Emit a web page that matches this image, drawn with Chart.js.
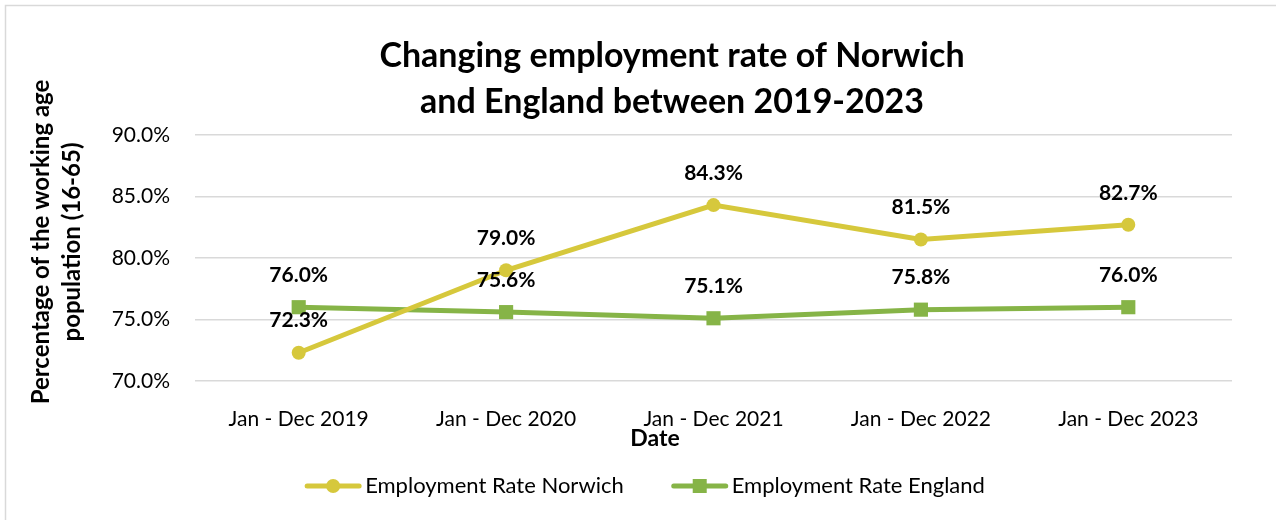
<!DOCTYPE html>
<html>
<head>
<meta charset="utf-8">
<script src="https://cdn.jsdelivr.net/npm/chart.js@4/dist/chart.umd.min.js"></script>
<style>
  html, body { margin: 0; padding: 0; background: #ffffff; }
  #chart { display: block; }
</style>
</head>
<body>
<canvas id="chart" width="1276" height="520"></canvas>
<script>
// Employment rate (% of working-age population, 16-65)
const categories = ['Jan - Dec 2019', 'Jan - Dec 2020', 'Jan - Dec 2021', 'Jan - Dec 2022', 'Jan - Dec 2023'];
const norwichRate = [72.3, 79.0, 84.3, 81.5, 82.7];
const englandRate = [76.0, 75.6, 75.1, 75.8, 76.0];
const seriesNames = ['Employment Rate Norwich', 'Employment Rate England'];
const yTicks = [70, 75, 80, 85, 90];

const titleLines = ['Changing employment rate of Norwich', 'and England between 2019-2023'];
const yTitleLines = ['Percentage of the working age', 'population (16-65)'];
const xTitle = 'Date';

const FONT = 'Lato, "Open Sans", "Liberation Sans", sans-serif';
const YELLOW = '#D6C83C';
const GREEN = '#86B447';
const TEXT = '#000000';

const pct = v => Number(v).toFixed(1) + '%';

// Titles, value labels, legend and frame drawn on the chart canvas
const decor = {
  id: 'decor',
  beforeDraw(chart) {
    const ctx = chart.ctx;
    ctx.save();
    ctx.fillStyle = '#ffffff';
    ctx.fillRect(0, 0, chart.width, chart.height);
    ctx.strokeStyle = '#d9d9d9';
    ctx.lineWidth = 1.5;
    ctx.beginPath();
    ctx.moveTo(5.5, chart.height + 2);
    ctx.lineTo(5.5, 5.5);
    ctx.lineTo(chart.width + 2, 5.5);
    ctx.stroke();
    ctx.restore();
  },
  afterDatasetsDraw(chart) {
    const ctx = chart.ctx;
    ctx.save();
    ctx.font = 'bold 21px ' + FONT;
    ctx.fillStyle = TEXT;
    ctx.textAlign = 'center';
    ctx.textBaseline = 'middle';
    chart.data.datasets.forEach((ds, i) => {
      const meta = chart.getDatasetMeta(i);
      meta.data.forEach((pt, j) => {
        ctx.fillText(pct(ds.data[j]), pt.x, pt.y - 32);
      });
    });
    ctx.restore();
  },
  afterDraw(chart) {
    const ctx = chart.ctx;
    ctx.save();
    ctx.fillStyle = TEXT;
    ctx.textAlign = 'center';
    ctx.textBaseline = 'middle';

    // chart title
    ctx.font = 'bold 34px ' + FONT;
    titleLines.forEach((t, i) => ctx.fillText(t, 672, 56 + i * 46));

    // x-axis title
    ctx.font = 'bold 23px ' + FONT;
    ctx.fillText(xTitle, 655, 439);

    // y-axis title (rotated)
    ctx.save();
    ctx.translate(41, 242);
    ctx.rotate(-Math.PI / 2);
    ctx.font = 'bold 24px ' + FONT;
    yTitleLines.forEach((t, i) => ctx.fillText(t, 0, i * 31));
    ctx.restore();

    // legend
    ctx.font = '22px ' + FONT;
    ctx.textAlign = 'left';
    const lineLen = 56, gapText = 4, gapItems = 48, ly = 486;
    const widths = chart.data.datasets.map(ds => lineLen + gapText + ctx.measureText(ds.label).width);
    const total = widths.reduce((a, b) => a + b, 0) + gapItems * (widths.length - 1);
    let x = 645 - total / 2;
    chart.data.datasets.forEach((ds, i) => {
      ctx.strokeStyle = ds.borderColor;
      ctx.fillStyle = ds.borderColor;
      ctx.lineWidth = 5;
      ctx.lineCap = 'round';
      ctx.beginPath();
      ctx.moveTo(x + 2, ly);
      ctx.lineTo(x + lineLen - 2, ly);
      ctx.stroke();
      const cx = x + lineLen / 2;
      if (ds.pointStyle === 'circle') {
        ctx.beginPath();
        ctx.arc(cx, ly, 7, 0, Math.PI * 2);
        ctx.fill();
      } else {
        ctx.fillRect(cx - 7, ly - 7, 14, 14);
      }
      ctx.fillStyle = TEXT;
      ctx.fillText(ds.label, x + lineLen + gapText, ly);
      x += widths[i] + gapItems;
    });
    ctx.restore();
  }
};

new Chart(document.getElementById('chart'), {
  type: 'line',
  data: {
    labels: categories,
    datasets: [
      {
        label: seriesNames[0],
        data: norwichRate,
        borderColor: YELLOW,
        backgroundColor: YELLOW,
        borderWidth: 5,
        pointStyle: 'circle',
        pointRadius: 7,
        pointBorderWidth: 0,
        tension: 0
      },
      {
        label: seriesNames[1],
        data: englandRate,
        borderColor: GREEN,
        backgroundColor: GREEN,
        borderWidth: 5,
        pointStyle: 'rect',
        pointRadius: 10,
        pointBorderWidth: 0,
        tension: 0
      }
    ]
  },
  options: {
    responsive: false,
    animation: false,
    devicePixelRatio: 1,
    layout: { padding: { left: 0, right: 44, top: 135, bottom: 0 } },
    plugins: {
      legend: { display: false },
      title: { display: false },
      tooltip: { enabled: false }
    },
    scales: {
      x: {
        type: 'category',
        offset: true,
        grid: { display: false },
        border: { display: false },
        ticks: {
          color: TEXT,
          font: { family: FONT, size: 21 },
          padding: 18,
          maxRotation: 0,
          autoSkip: false
        },
        afterFit(s) { s.height = 139; }
      },
      y: {
        min: yTicks[0],
        max: yTicks[yTicks.length - 1],
        afterBuildTicks(s) { s.ticks = yTicks.map(v => ({ value: v })); },
        grid: { color: '#d9d9d9', lineWidth: 1.5, drawTicks: false },
        border: { display: false },
        ticks: {
          color: TEXT,
          font: { family: FONT, size: 21 },
          padding: 25,
          callback: v => pct(v)
        },
        afterFit(s) { s.width = 195; }
      }
    }
  },
  plugins: [decor]
});
</script>
</body>
</html>
